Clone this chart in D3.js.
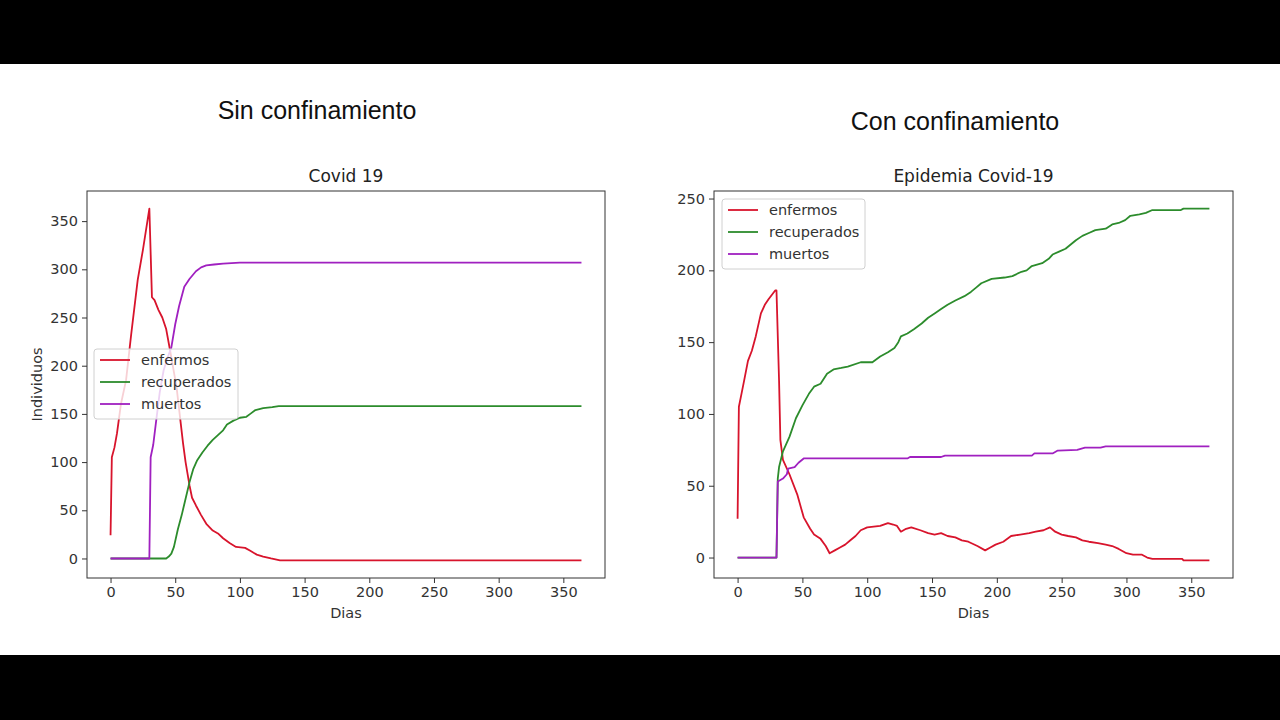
<!DOCTYPE html>
<html>
<head>
<meta charset="utf-8">
<script src="https://cdn.jsdelivr.net/npm/d3@7"></script>
<style>
  html, body { margin: 0; padding: 0; background: #000; }
  svg { display: block; }
</style>
</head>
<body>
<svg id="chart" width="1280" height="720"></svg>
<script>
// ---- datos: sin confinamiento ----
const ticksX = [0, 50, 100, 150, 200, 250, 300, 350];
const sinTicksY = [0, 50, 100, 150, 200, 250, 300, 350];
const conTicksY = [0, 50, 100, 150, 200, 250];
const series = ["enfermos", "recuperados", "muertos"];

const sinEnfermosDias = [0, 1, 3, 5, 8, 12, 16, 21, 25, 30, 32, 34, 37, 40, 43, 46, 51, 56, 58, 61, 63, 66, 70, 74, 79, 83, 87, 92, 97, 104, 108, 113, 118, 124, 131, 364];
const sinEnfermos     = [24, 105, 115, 130, 160, 185, 233, 289, 320, 363, 271, 268, 258, 250, 238, 216, 178, 120, 100, 76, 63, 55, 45, 36, 29, 26, 21, 16, 12, 11, 8, 4, 2, 0, -2, -2];

const sinRecuperadosDias = [0, 43, 45, 47, 49, 52, 55, 58, 61, 64, 67, 71, 75, 79, 83, 87, 90, 95, 100, 105, 108, 112, 118, 125, 130, 364];
const sinRecuperados     = [0, 0, 2, 5, 12, 30, 45, 62, 79, 93, 102, 110, 117, 123, 128, 133, 139, 143, 146, 147, 150, 154, 156, 157, 158, 158];

const sinMuertosDias = [0, 30, 31, 33, 35, 38, 41, 44, 47, 50, 53, 57, 61, 66, 70, 74, 80, 87, 100, 364];
const sinMuertos     = [0, 0, 105, 118, 140, 172, 195, 208, 219, 243, 262, 282, 290, 298, 302, 304, 305, 306, 307, 307];

// ---- datos: con confinamiento ----
const conEnfermosDias = [0, 1, 3, 5, 8, 11, 14, 18, 21, 24, 29, 30, 32, 33, 35, 40, 46, 51, 56, 59, 64, 68, 71, 75, 79, 83, 87, 91, 95, 100, 110, 116, 120, 123, 126, 130, 134, 141, 147, 152, 157, 162, 168, 173, 178, 185, 191, 195, 199, 205, 211, 218, 225, 230, 236, 241, 245, 250, 255, 261, 266, 271, 278, 284, 289, 294, 300, 305, 312, 316, 320, 343, 344, 364];
const conEnfermos     = [27, 105, 114, 123, 137, 144, 154, 170, 176, 180, 186, 186, 123, 82, 68, 58, 44, 28, 20, 16, 13, 8, 3, 5, 7, 9, 12, 15, 19, 21, 22, 24, 23, 22, 18, 20, 21, 19, 17, 16, 17, 15, 14, 12, 11, 8, 5, 7, 9, 11, 15, 16, 17, 18, 19, 21, 18, 16, 15, 14, 12, 11, 10, 9, 8, 6, 3, 2, 2, 0, -1, -1, -2, -2];

const conRecuperadosDias = [0, 30, 31, 32, 35, 40, 45, 50, 55, 59, 64, 69, 74, 80, 85, 95, 104, 110, 116, 121, 124, 126, 131, 136, 142, 147, 152, 157, 162, 168, 175, 180, 184, 188, 196, 206, 212, 219, 223, 227, 235, 240, 243, 248, 253, 257, 261, 266, 271, 276, 284, 289, 294, 299, 303, 310, 315, 320, 342, 344, 364];
const conRecuperados     = [0, 0, 55, 63, 74, 84, 97, 106, 114, 119, 121, 128, 131, 132, 133, 136, 136, 140, 143, 146, 150, 154, 156, 159, 163, 167, 170, 173, 176, 179, 182, 185, 188, 191, 194, 195, 196, 199, 200, 203, 205, 208, 211, 213, 215, 218, 221, 224, 226, 228, 229, 232, 233, 235, 238, 239, 240, 242, 242, 243, 243];

const conMuertosDias = [0, 30, 31, 35, 38, 39, 44, 47, 51, 131, 133, 157, 160, 227, 229, 243, 247, 262, 268, 280, 284, 364];
const conMuertos     = [0, 0, 53, 55, 58, 62, 63, 66, 69, 69, 70, 70, 71, 71, 72.5, 72.5, 74.5, 75, 76.5, 76.5, 77.4, 77.4];

const colores = { enfermos: "#d8142c", recuperados: "#2c8c2c", muertos: "#a020c0" };
const FONT = "'DejaVu Sans', sans-serif";
const SLIDE_FONT = "'Liberation Sans', Arial, sans-serif";

const svg = d3.select("#chart");

// fondo: barras negras arriba y abajo, blanco en medio
svg.append("rect").attr("x", 0).attr("y", 0).attr("width", 1280).attr("height", 720).attr("fill", "#000");
svg.append("rect").attr("x", 0).attr("y", 64).attr("width", 1280).attr("height", 591).attr("fill", "#fff");

// titulos de la diapositiva
svg.append("text").attr("x", 317).attr("y", 119).attr("text-anchor", "middle")
    .style("font-family", SLIDE_FONT).style("font-size", "25px").attr("fill", "#111")
    .text("Sin confinamiento");
svg.append("text").attr("x", 955).attr("y", 130).attr("text-anchor", "middle")
    .style("font-family", SLIDE_FONT).style("font-size", "25px").attr("fill", "#111")
    .text("Con confinamiento");

function zip(dias, vals) {
    return dias.map((d, i) => [d, vals[i]]);
}

/**
 * Dibuja un panel estilo matplotlib
 */
function draw_panel(cfg) {
    const { left, right, top, bottom } = cfg.box;
    const g = svg.append("g");

    const allDias = cfg.lines.flatMap(l => l.data.map(d => d[0]));
    const allVals = cfg.lines.flatMap(l => l.data.map(d => d[1]));
    const [x0, x1] = d3.extent(allDias);
    const [y0, y1] = d3.extent(allVals);
    const mx = (x1 - x0) * 0.05, my = (y1 - y0) * 0.05;

    const x = d3.scaleLinear().domain([x0 - mx, x1 + mx]).range([left, right]);
    const y = d3.scaleLinear().domain([y0 - my, y1 + my]).range([bottom, top]);

    // ejes
    const xAxis = d3.axisBottom(x).tickValues(ticksX).tickSizeOuter(0).tickSize(5).tickPadding(4);
    const yAxis = d3.axisLeft(y).tickValues(cfg.ticksY).tickSizeOuter(0).tickSize(5).tickPadding(4);

    const gx = g.append("g").attr("transform", `translate(0,${bottom})`).call(xAxis);
    const gy = g.append("g").attr("transform", `translate(${left},0)`).call(yAxis);
    [gx, gy].forEach(a => {
        a.select(".domain").remove();
        a.selectAll("line").attr("stroke", "#333").attr("stroke-width", 1);
        a.selectAll("text").attr("fill", "#333").style("font-family", FONT).style("font-size", "14.5px");
    });

    // lineas
    const line = d3.line().x(d => x(d[0])).y(d => y(d[1]));
    cfg.lines.forEach(l => {
        g.append("path").datum(l.data)
            .attr("d", line)
            .attr("fill", "none")
            .attr("stroke", colores[l.name])
            .attr("stroke-width", 1.8)
            .attr("stroke-linejoin", "round");
    });

    // marco
    g.append("rect").attr("x", left).attr("y", top)
        .attr("width", right - left).attr("height", bottom - top)
        .attr("fill", "none").attr("stroke", "#333").attr("stroke-width", 1);

    // titulo y etiquetas
    g.append("text").attr("x", (left + right) / 2).attr("y", top - 9)
        .attr("text-anchor", "middle").attr("fill", "#222")
        .style("font-family", FONT).style("font-size", "17px").text(cfg.title);
    g.append("text").attr("x", (left + right) / 2).attr("y", bottom + 40)
        .attr("text-anchor", "middle").attr("fill", "#333")
        .style("font-family", FONT).style("font-size", "14.5px").text("Dias");
    if (cfg.ylabel) {
        g.append("text")
            .attr("transform", `translate(${left - 50},${(top + bottom) / 2}) rotate(-90)`)
            .attr("text-anchor", "middle").attr("dy", "0.35em").attr("fill", "#333")
            .style("font-family", FONT).style("font-size", "14.5px").text(cfg.ylabel);
    }

    // leyenda
    const lg = cfg.legend;
    const leg = g.append("g").attr("transform", `translate(${lg.x},${lg.y})`);
    leg.append("rect").attr("x", 0).attr("y", 0).attr("width", lg.w).attr("height", 70)
        .attr("rx", 3).attr("fill", "#fff").attr("fill-opacity", 0.8)
        .attr("stroke", "#d0d0d0").attr("stroke-width", 1);
    series.forEach((s, i) => {
        const yy = 11 + i * 22;
        leg.append("line").attr("x1", 6).attr("x2", 36).attr("y1", yy).attr("y2", yy)
            .attr("stroke", colores[s]).attr("stroke-width", 1.8);
        leg.append("text").attr("x", 47).attr("y", yy).attr("dy", "0.35em")
            .attr("fill", "#333").style("font-family", FONT).style("font-size", "14.5px").text(s);
    });
}

draw_panel({
    box: { left: 87, right: 605, top: 191, bottom: 578 },
    title: "Covid 19",
    ylabel: "Individuos",
    ticksY: sinTicksY,
    legend: { x: 94, y: 349, w: 144 },
    lines: [
        { name: "enfermos", data: zip(sinEnfermosDias, sinEnfermos) },
        { name: "recuperados", data: zip(sinRecuperadosDias, sinRecuperados) },
        { name: "muertos", data: zip(sinMuertosDias, sinMuertos) }
    ]
});

draw_panel({
    box: { left: 714, right: 1233, top: 191, bottom: 578 },
    title: "Epidemia Covid-19",
    ylabel: null,
    ticksY: conTicksY,
    legend: { x: 722, y: 199, w: 143 },
    lines: [
        { name: "enfermos", data: zip(conEnfermosDias, conEnfermos) },
        { name: "recuperados", data: zip(conRecuperadosDias, conRecuperados) },
        { name: "muertos", data: zip(conMuertosDias, conMuertos) }
    ]
});
</script>
</body>
</html>
